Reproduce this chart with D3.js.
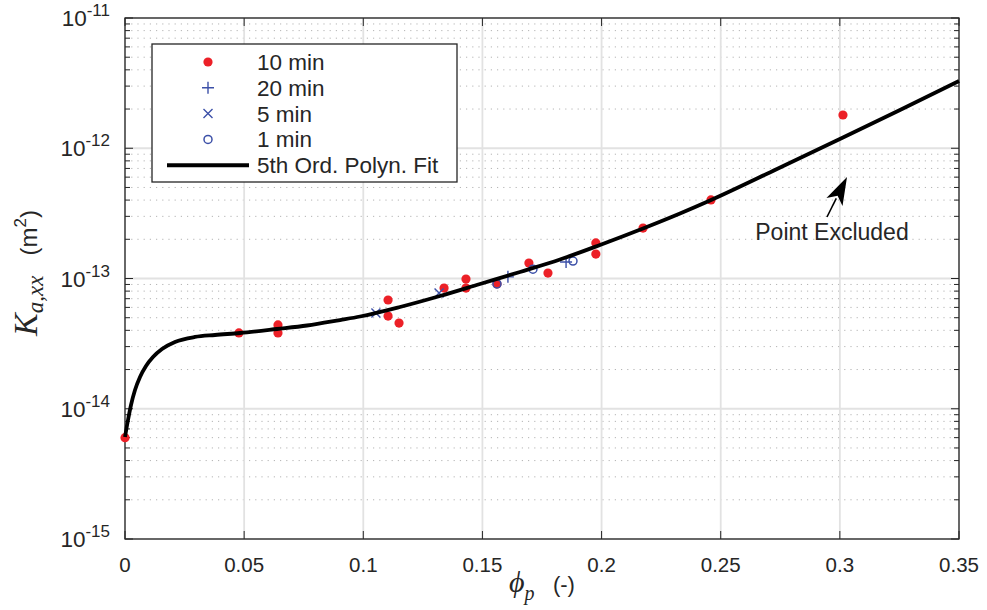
<!DOCTYPE html>
<html>
<head>
<meta charset="utf-8">
<script src="https://cdn.jsdelivr.net/npm/d3@7"></script>
<style>
body { margin: 0; background: #fff; }
text { font-family: "Liberation Sans", Arial, sans-serif; fill: #262626; }
</style>
</head>
<body>
<div id="chart"></div>
<script>
// 10 min samples (red dots)
const phi10 = [0, 0.0478, 0.0642, 0.0642, 0.1104, 0.1104, 0.115, 0.1339, 0.1431, 0.1431,
    0.1561, 0.1695, 0.1775, 0.1976, 0.1976, 0.2174, 0.2459, 0.3013];
const k10 = [6.0e-15, 3.82e-14, 4.40e-14, 3.82e-14, 6.84e-14, 5.15e-14, 4.55e-14, 8.45e-14, 9.9e-14, 8.45e-14,
    9.08e-14, 1.315e-13, 1.10e-13, 1.876e-13, 1.54e-13, 2.44e-13, 4.01e-13, 1.80e-12];
// 20 min (+)
const phi20 = [0.1607, 0.1851];
const k20 = [1.03e-13, 1.34e-13];
// 5 min (x)
const phi5 = [0.1053, 0.1318];
const k5 = [5.43e-14, 7.75e-14];
// 1 min (o)
const phi1 = [0.1561, 0.1712, 0.188];
const k1 = [9.08e-14, 1.18e-13, 1.36e-13];

// 5th order polynomial fit
const fitPhi = [0, 0.00126, 0.00252, 0.0042, 0.0063, 0.00881, 0.01175, 0.01553, 0.02098, 0.02938,
    0.03777, 0.04826, 0.06379, 0.07638, 0.09023, 0.09862, 0.11541, 0.13219, 0.14898, 0.16576,
    0.18255, 0.19934, 0.21738, 0.23291, 0.2455, 0.27362, 0.30132, 0.32524, 0.35];
const fitK = [6.07e-15, 8.20e-15, 1.069e-14, 1.393e-14, 1.753e-14, 2.129e-14, 2.496e-14, 2.875e-14, 3.255e-14, 3.556e-14,
    3.683e-14, 3.816e-14, 4.096e-14, 4.357e-14, 4.801e-14, 5.108e-14, 6.042e-14, 7.337e-14, 9.075e-14, 1.122e-13,
    1.399e-13, 1.808e-13, 2.420e-13, 3.155e-13, 3.97e-13, 6.93e-13, 1.209e-12, 1.966e-12, 3.283e-12];

const xTicks = [0, 0.05, 0.1, 0.15, 0.2, 0.25, 0.3, 0.35];
const xTickLabels = ["0", "0.05", "0.1", "0.15", "0.2", "0.25", "0.3", "0.35"];
const yTicks = [1e-15, 1e-14, 1e-13, 1e-12, 1e-11];
const yTickExp = ["-15", "-14", "-13", "-12", "-11"];

const legendLabels = ["10 min", "20 min", "5 min", "1 min", "5th Ord. Polyn. Fit"];

// annotation (arrow tail, arrow tip, text position)
const noteText = "Point Excluded";
const noteTail = [0.2946, 2.966e-13];
const noteTip = [0.303, 6.016e-13];
const notePos = [0.2967, 1.975e-13];

const red = "#ec2027";
const blue = "#3c50a8";

const width = 987, height = 610;
const margin = { top: 18, right: 28, bottom: 71, left: 125 };

const svg = d3.select("#chart")
    .append("svg")
    .attr("width", width)
    .attr("height", height);

const xScale = d3.scaleLinear()
    .domain([0, 0.35])
    .range([margin.left, width - margin.right]);

const yScale = d3.scaleLog()
    .domain([1e-15, 1e-11])
    .range([height - margin.bottom, margin.top]);

const x0 = xScale.range()[0], x1 = xScale.range()[1];
const yB = yScale.range()[0], yT = yScale.range()[1];

// minor y values 2..9 per decade
const yMinor = [];
for (let e = -15; e < -11; e++) {
    for (let m = 2; m <= 9; m++) yMinor.push(m * Math.pow(10, e));
}

// minor grid (dotted)
svg.selectAll(".minor-grid")
    .data(yMinor)
    .enter()
    .append("line")
    .attr("class", "minor-grid")
    .attr("x1", x0).attr("x2", x1)
    .attr("y1", d => yScale(d)).attr("y2", d => yScale(d))
    .attr("stroke", "#b4b4b4")
    .attr("stroke-width", 1)
    .attr("stroke-dasharray", "1.2,5");

// major grid
svg.selectAll(".xgrid")
    .data(xTicks)
    .enter()
    .append("line")
    .attr("x1", d => xScale(d)).attr("x2", d => xScale(d))
    .attr("y1", yT).attr("y2", yB)
    .attr("stroke", "#e2e2e2").attr("stroke-width", 1.8);

svg.selectAll(".ygrid")
    .data(yTicks)
    .enter()
    .append("line")
    .attr("x1", x0).attr("x2", x1)
    .attr("y1", d => yScale(d)).attr("y2", d => yScale(d))
    .attr("stroke", "#e2e2e2").attr("stroke-width", 1.8);

// axes (ticks inward on all sides)
const axisColor = "#262626";
const tickG = svg.append("g").attr("stroke", axisColor).attr("stroke-width", 1);
xTicks.forEach(t => {
    tickG.append("line").attr("x1", xScale(t)).attr("x2", xScale(t)).attr("y1", yB).attr("y2", yB - 8);
    tickG.append("line").attr("x1", xScale(t)).attr("x2", xScale(t)).attr("y1", yT).attr("y2", yT + 8);
});
yTicks.forEach(t => {
    tickG.append("line").attr("x1", x0).attr("x2", x0 + 8).attr("y1", yScale(t)).attr("y2", yScale(t));
    tickG.append("line").attr("x1", x1).attr("x2", x1 - 8).attr("y1", yScale(t)).attr("y2", yScale(t));
});
yMinor.forEach(t => {
    tickG.append("line").attr("x1", x0).attr("x2", x0 + 5).attr("y1", yScale(t)).attr("y2", yScale(t));
    tickG.append("line").attr("x1", x1).attr("x2", x1 - 5).attr("y1", yScale(t)).attr("y2", yScale(t));
});

svg.append("rect")
    .attr("x", x0).attr("y", yT)
    .attr("width", x1 - x0).attr("height", yB - yT)
    .attr("fill", "none")
    .attr("stroke", axisColor).attr("stroke-width", 1.3);

// tick labels
svg.selectAll(".xlabel")
    .data(xTicks)
    .enter()
    .append("text")
    .attr("x", d => xScale(d))
    .attr("y", yB + 33)
    .attr("text-anchor", "middle")
    .attr("font-size", 20.5)
    .text((d, i) => xTickLabels[i]);

const yLab = svg.selectAll(".ylabel")
    .data(yTicks)
    .enter()
    .append("text")
    .attr("x", x0 - 15)
    .attr("y", d => yScale(d) + 8)
    .attr("text-anchor", "end")
    .attr("font-size", 22.5);
yLab.append("tspan").text("10");
yLab.append("tspan").attr("dy", -10).attr("font-size", 17).text((d, i) => yTickExp[i]);

// axis titles
const yTitle = svg.append("text")
    .attr("transform", "translate(37,273) rotate(-90)")
    .attr("text-anchor", "middle");
yTitle.append("tspan").attr("font-family", "Liberation Serif, serif").attr("font-style", "italic").attr("font-size", 34).text("K");
yTitle.append("tspan").attr("font-family", "Liberation Serif, serif").attr("font-style", "italic").attr("font-size", 23).attr("dy", 6).text("a,xx");
yTitle.append("tspan").attr("font-size", 24).attr("dy", -6).text("\u00a0\u00a0\u00a0(m");
yTitle.append("tspan").attr("font-size", 17).attr("dy", -11).text("2");
yTitle.append("tspan").attr("font-size", 24).attr("dy", 11).text(")");

const xTitle = svg.append("text")
    .attr("x", (x0 + x1) / 2)
    .attr("y", 592)
    .attr("text-anchor", "middle");
xTitle.append("tspan").attr("font-family", "Liberation Serif, serif").attr("font-style", "italic").attr("font-size", 30).text("\u03d5");
xTitle.append("tspan").attr("font-family", "Liberation Serif, serif").attr("font-style", "italic").attr("font-size", 20).attr("dy", 8).text("p");
xTitle.append("tspan").attr("font-size", 22).attr("dy", -8).text("\u00a0\u00a0\u00a0(-)");

// marker helpers
function drawDot(g, x, y) {
    g.append("circle").attr("cx", x).attr("cy", y).attr("r", 4.6).attr("fill", red);
}
function drawPlus(g, x, y) {
    g.append("path").attr("d", `M${x - 6},${y}H${x + 6}M${x},${y - 6}V${y + 6}`)
        .attr("stroke", blue).attr("stroke-width", 1.4).attr("fill", "none");
}
function drawCross(g, x, y) {
    g.append("path").attr("d", `M${x - 4.5},${y - 4.5}L${x + 4.5},${y + 4.5}M${x - 4.5},${y + 4.5}L${x + 4.5},${y - 4.5}`)
        .attr("stroke", blue).attr("stroke-width", 1.4).attr("fill", "none");
}
function drawRing(g, x, y) {
    g.append("circle").attr("cx", x).attr("cy", y).attr("r", 4)
        .attr("stroke", blue).attr("stroke-width", 1.5).attr("fill", "none");
}

const marks = svg.append("g");
phi10.forEach((p, i) => drawDot(marks, xScale(p), yScale(k10[i])));
phi20.forEach((p, i) => drawPlus(marks, xScale(p), yScale(k20[i])));
phi5.forEach((p, i) => drawCross(marks, xScale(p), yScale(k5[i])));
phi1.forEach((p, i) => drawRing(marks, xScale(p), yScale(k1[i])));

// fit curve
const line = d3.line()
    .x(d => xScale(d[0]))
    .y(d => yScale(d[1]))
    .curve(d3.curveMonotoneX);

svg.append("path")
    .datum(fitPhi.map((p, i) => [p, fitK[i]]))
    .attr("d", line)
    .attr("fill", "none")
    .attr("stroke", "#000")
    .attr("stroke-width", 3.8);

// annotation arrow
const ax0 = xScale(noteTail[0]), ay0 = yScale(noteTail[1]);
const ax1 = xScale(noteTip[0]), ay1 = yScale(noteTip[1]);
const ang = Math.atan2(ay1 - ay0, ax1 - ax0);
const headLen = 28, headW = 9;
const bx = ax1 - headLen * Math.cos(ang), by = ay1 - headLen * Math.sin(ang);
svg.append("line")
    .attr("x1", ax0).attr("y1", ay0).attr("x2", bx + 4 * Math.cos(ang)).attr("y2", by + 4 * Math.sin(ang))
    .attr("stroke", "#000").attr("stroke-width", 1.6);
svg.append("path")
    .attr("d", `M${ax1},${ay1}L${bx + headW * Math.sin(ang)},${by - headW * Math.cos(ang)}L${bx + 7 * Math.cos(ang)},${by + 7 * Math.sin(ang)}L${bx - headW * Math.sin(ang)},${by + headW * Math.cos(ang)}Z`)
    .attr("fill", "#000");

svg.append("text")
    .attr("x", xScale(notePos[0]))
    .attr("y", yScale(notePos[1]))
    .attr("text-anchor", "middle")
    .attr("font-size", 23)
    .attr("fill", "#000")
    .text(noteText);

// legend
const lg = svg.append("g");
lg.append("rect")
    .attr("x", 152).attr("y", 44)
    .attr("width", 305).attr("height", 138)
    .attr("fill", "#fff")
    .attr("stroke", axisColor).attr("stroke-width", 1.3);

const legendDraw = [drawDot, drawPlus, drawCross, drawRing];
legendLabels.forEach((lab, i) => {
    const ly = 62 + i * 25.8;
    if (i < 4) {
        legendDraw[i](lg, 208, ly);
    } else {
        lg.append("line").attr("x1", 167).attr("x2", 249).attr("y1", ly).attr("y2", ly)
            .attr("stroke", "#000").attr("stroke-width", 4);
    }
    lg.append("text")
        .attr("x", 257)
        .attr("y", ly + 8)
        .attr("font-size", 22.5)
        .attr("fill", "#000")
        .text(lab);
});
</script>
</body>
</html>
